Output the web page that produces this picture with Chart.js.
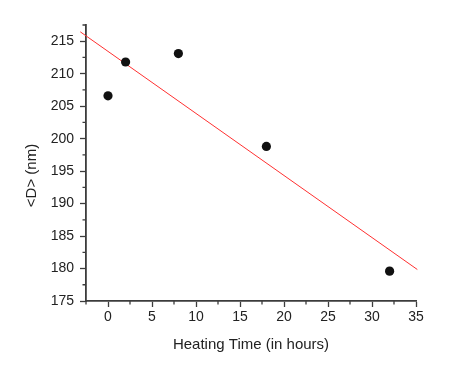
<!DOCTYPE html>
<html>
<head>
<meta charset="utf-8">
<script src="https://cdn.jsdelivr.net/npm/chart.js@4/dist/chart.umd.min.js"></script>
<style>
html,body{margin:0;padding:0;background:#fff;}
#wrap{width:450px;height:381px;position:relative;}
</style>
</head>
<body>
<div id="wrap"><canvas id="c" width="450" height="381"></canvas></div>
<script>
// Data
const heatingHours = [0, 2, 8, 18, 32];
const meanDiameter = [206.6, 211.8, 213.1, 198.8, 179.6];
const fitX = [-3.15, 35.15];
const fitY = [216.45, 179.85];
const xTickMin = -2.5, xTickMax = 35, xStep = 2.5;
const yTickMin = 175, yTickMax = 217.5, yStep = 2.5;

const pointData = heatingHours.map((x, i) => ({x: x, y: meanDiameter[i]}));
const fitData = fitX.map((x, i) => ({x: x, y: fitY[i]}));

const AXIS_COLOR = '#3c3c3c';
const isMajor = v => Math.abs(v / 5 - Math.round(v / 5)) < 1e-6;

// draws short minor ticks on the outside of the axes
const minorTicks = {
  id: 'minorTicks',
  afterDraw(chart) {
    const ctx = chart.ctx;
    const xs = chart.scales.x, ys = chart.scales.y;
    ctx.save();
    ctx.strokeStyle = AXIS_COLOR;
    ctx.lineWidth = 1.3;
    ctx.beginPath();
    xs.ticks.forEach(t => {
      if (!isMajor(t.value)) {
        const px = xs.getPixelForValue(t.value);
        ctx.moveTo(px, xs.top);
        ctx.lineTo(px, xs.top + 3.5);
      }
    });
    ys.ticks.forEach(t => {
      if (!isMajor(t.value)) {
        const py = ys.getPixelForValue(t.value);
        ctx.moveTo(ys.right, py);
        ctx.lineTo(ys.right - 3.5, py);
      }
    });
    ctx.stroke();
    ctx.restore();
  }
};

new Chart(document.getElementById('c'), {
  type: 'scatter',
  data: {
    datasets: [
      {
        label: 'fit',
        data: fitData,
        showLine: true,
        borderColor: '#ff3030',
        borderWidth: 1,
        pointRadius: 0,
        clip: false,
        order: 2
      },
      {
        label: '<D>',
        data: pointData,
        backgroundColor: '#111111',
        borderColor: '#111111',
        borderWidth: 0,
        pointRadius: 4.6,
        order: 1
      }
    ]
  },
  options: {
    responsive: false,
    animation: false,
    layout: {padding: {left: 0, right: 34, top: 25, bottom: 0}},
    plugins: {legend: {display: false}, tooltip: {enabled: false}},
    scales: {
      x: {
        type: 'linear',
        min: xTickMin, max: xTickMax,
        afterFit(s) { s.height = 80; },
        border: {display: true, color: AXIS_COLOR, width: 1.8},
        grid: {
          drawOnChartArea: false, drawTicks: true, tickLength: 6,
          tickWidth: 1.3,
          tickColor: c => (c.tick && isMajor(c.tick.value)) ? AXIS_COLOR : 'rgba(0,0,0,0)'
        },
        ticks: {
          stepSize: xStep,
          autoSkip: false,
          maxRotation: 0,
          padding: 2,
          color: '#222',
          font: {family: 'Liberation Sans, Arial, sans-serif', size: 14},
          callback: v => isMajor(v) && v >= 0 ? String(Math.round(v)) : ''
        },
        title: {
          display: true,
          text: 'Heating Time (in hours)',
          color: '#222',
          font: {family: 'Liberation Sans, Arial, sans-serif', size: 15},
          padding: {top: 0, bottom: 27}
        }
      },
      y: {
        type: 'linear',
        min: yTickMin, max: yTickMax,
        afterFit(s) { s.width = 86; },
        border: {display: true, color: AXIS_COLOR, width: 1.8},
        grid: {
          drawOnChartArea: false, drawTicks: true, tickLength: 6,
          tickWidth: 1.3,
          tickColor: c => (c.tick && isMajor(c.tick.value)) ? AXIS_COLOR : 'rgba(0,0,0,0)'
        },
        ticks: {
          stepSize: yStep,
          autoSkip: false,
          padding: 6,
          color: '#222',
          font: {family: 'Liberation Sans, Arial, sans-serif', size: 14},
          callback: v => isMajor(v) ? String(Math.round(v)) : ''
        },
        title: {
          display: true,
          text: '<D> (nm)      ',
          color: '#222',
          font: {family: 'Liberation Sans, Arial, sans-serif', size: 15},
          padding: {top: 23, bottom: 0}
        }
      }
    }
  },
  plugins: [minorTicks]
});
</script>
</body>
</html>
